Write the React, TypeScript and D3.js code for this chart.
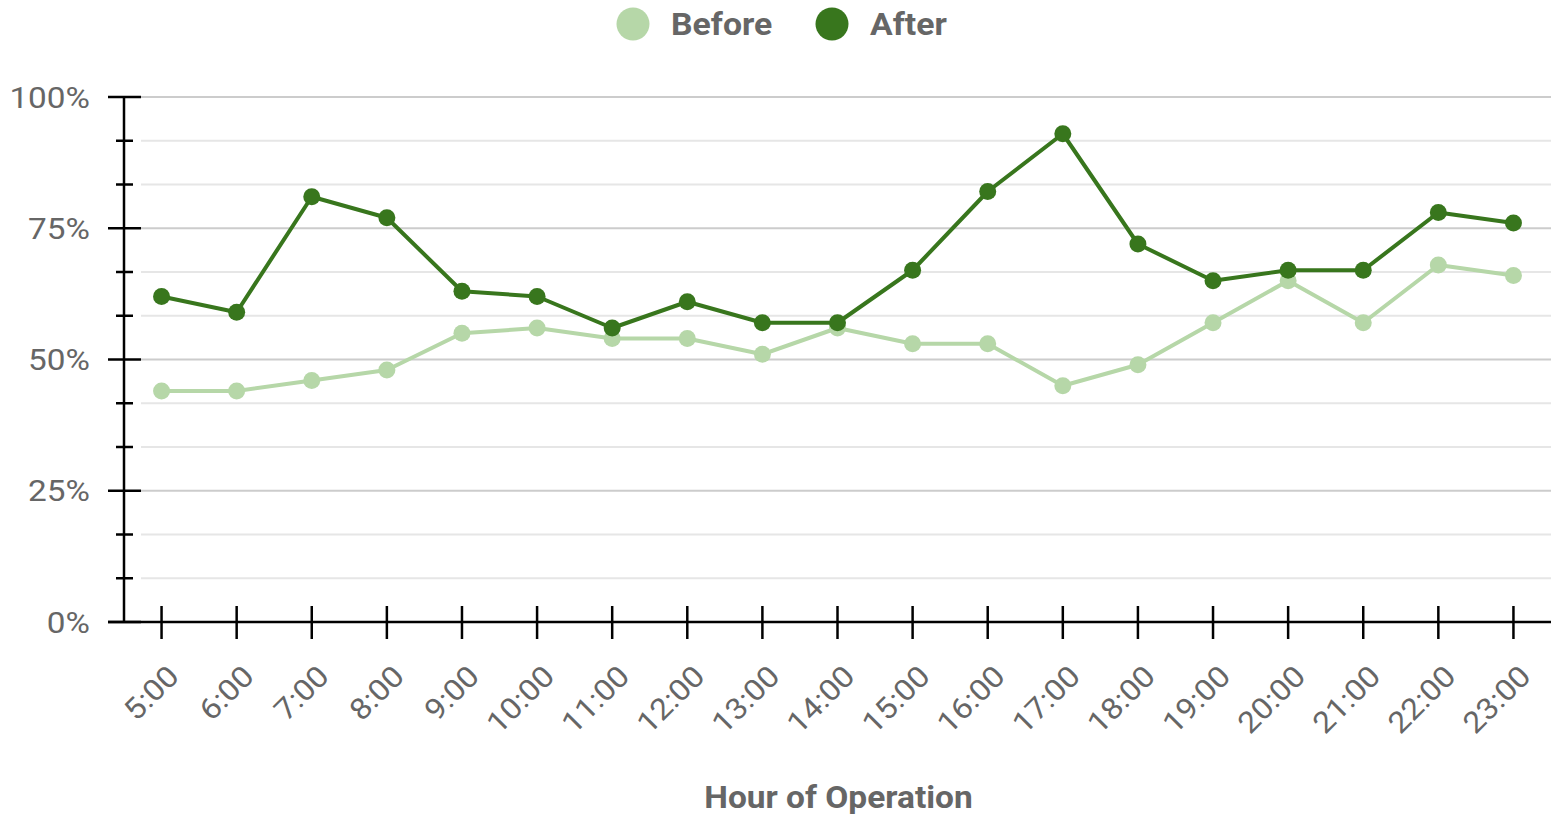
import React from "react";
import * as d3 from "d3";

const hours = ["5:00","6:00","7:00","8:00","9:00","10:00","11:00","12:00","13:00","14:00","15:00","16:00","17:00","18:00","19:00","20:00","21:00","22:00","23:00"];
const beforeValues = [44,44,46,48,55,56,54,54,51,56,53,53,45,49,57,65,57,68,66];
const afterValues = [62,59,81,77,63,62,56,61,57,57,67,82,93,72,65,67,67,78,76];
const majorTicks = [0,25,50,75,100];
const seriesNames = ["Before","After"];
const seriesColors = ["#b6d7a8","#38761d"];

const W = 1553, H = 816;
const left = 124, right = 1551, top = 97, bottom = 622;
const FONT = "Roboto, 'Liberation Sans', Arial, sans-serif";

export default function App() {
  const x = d3.scaleBand().domain(hours).range([left, right]);
  const y = d3.scaleLinear().domain([0, 100]).range([bottom, top]);
  const allTicks = d3.range(0, 100.0001, 100 / 12);
  const cx = (h: string) => (x(h) as number) + x.bandwidth() / 2;
  const line = d3.line<number>().x((_, i) => cx(hours[i])).y((d) => y(d));
  const series = [beforeValues, afterValues];

  return (
    <svg width={W} height={H} style={{ position: "absolute", left: 0, top: 0, background: "#fff" }} fontFamily={FONT}>
      {allTicks.map((t, i) => {
        const major = i % 3 === 0;
        if (t === 0) return null;
        return (
          <line key={"g" + i} x1={141} x2={right} y1={y(t)} y2={y(t)} stroke={major ? "#cccccc" : "#e6e6e6"} strokeWidth={2} />
        );
      })}
      <line x1={left} x2={left} y1={top} y2={bottom} stroke="#000" strokeWidth={2.5} />
      {allTicks.map((t, i) => {
        const major = i % 3 === 0;
        return (
          <line key={"t" + i} x1={major ? 108 : 116} x2={major ? 141 : 133} y1={y(t)} y2={y(t)} stroke="#000" strokeWidth={2.5} />
        );
      })}
      {majorTicks.map((t) => (
        <text key={"l" + t} transform={`translate(90,${y(t)}) scale(1.13,1)`} dy="0.36em" textAnchor="end" fill="#666" fontSize={29.5}>{t}%</text>
      ))}
      <line x1={108} x2={right} y1={bottom} y2={bottom} stroke="#000" strokeWidth={2.5} />
      {hours.map((h) => (
        <line key={"xt" + h} x1={cx(h)} x2={cx(h)} y1={606} y2={639} stroke="#000" strokeWidth={2.5} />
      ))}
      {hours.map((h) => (
        <text key={"xl" + h} transform={`translate(${cx(h) + 19},${678}) rotate(-45) scale(1.1,1)`} textAnchor="end" fill="#666" fontSize={29.5}>{h}</text>
      ))}
      <text transform={`translate(${(left + right) / 2 + 1},808) scale(1.08,1)`} textAnchor="middle" fill="#666" fontSize={31} fontWeight="bold">Hour of Operation</text>
      {series.map((vals, si) => (
        <g key={"s" + si}>
          <path d={line(vals) || ""} fill="none" stroke={seriesColors[si]} strokeWidth={4} strokeLinejoin="round" />
          {vals.map((v, i) => (
            <circle key={i} cx={cx(hours[i])} cy={y(v)} r={8.5} fill={seriesColors[si]} />
          ))}
        </g>
      ))}
      {seriesNames.map((n, i) => {
        const lx = i === 0 ? 633 : 832;
        return (
          <g key={"lg" + n}>
            <circle cx={lx} cy={24} r={16.5} fill={seriesColors[i]} />
            <text transform={`translate(${lx + 38},24) scale(1.09,1)`} dy="0.36em" fill="#666" fontSize={31} fontWeight="bold">{n}</text>
          </g>
        );
      })}
    </svg>
  );
}
